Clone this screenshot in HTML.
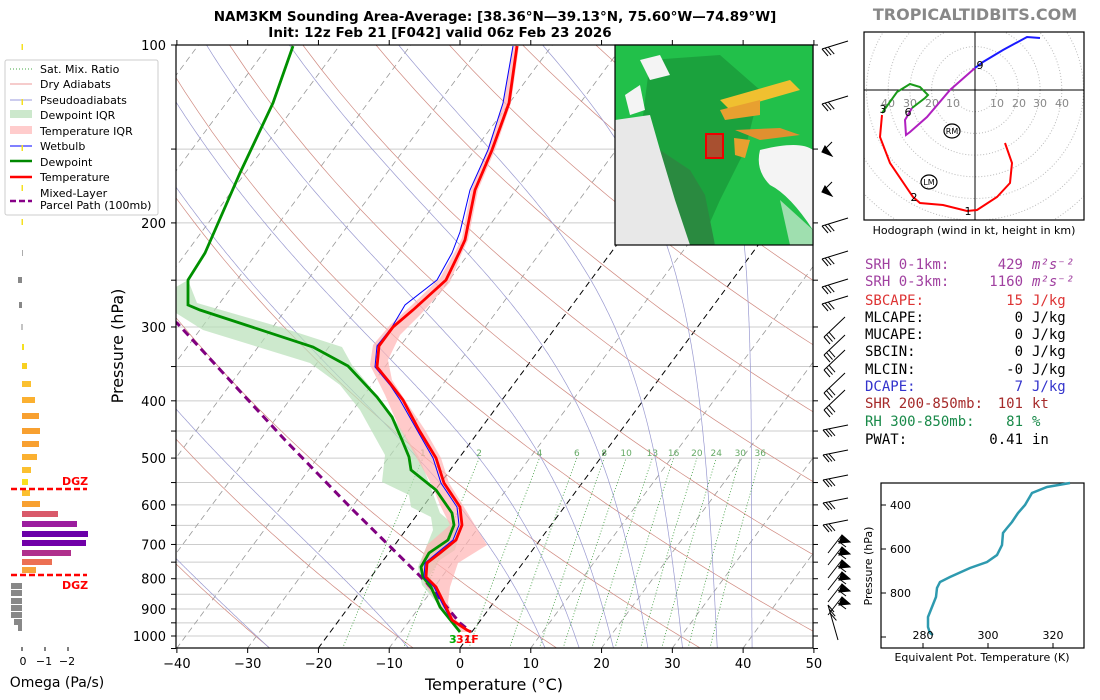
<!DOCTYPE html>
<html><head><meta charset="utf-8"><style>
body{margin:0;background:#fff;width:1100px;height:700px;overflow:hidden}
svg{display:block;font-family:"DejaVu Sans","Liberation Sans",sans-serif}
.m{font-family:"DejaVu Sans Mono","Liberation Mono",monospace;font-size:14px}
</style></head><body>
<svg id="s" width="1100" height="700" viewBox="0 0 1100 700" xmlns="http://www.w3.org/2000/svg">
<defs><clipPath id="c"><rect x="176" y="45" width="637" height="603"/></clipPath>
<clipPath id="h"><rect x="864" y="32" width="220" height="188"/></clipPath></defs>
<text x="495" y="21" text-anchor="middle" font-size="13.5" font-weight="bold">NAM3KM Sounding Area-Average: [38.36°N—39.13°N, 75.60°W—74.89°W]</text>
<text x="440" y="37" text-anchor="middle" font-size="13.5" font-weight="bold">Init: 12z Feb 21 [F042] valid 06z Feb 23 2026</text>
<text x="975" y="20" text-anchor="middle" font-size="16" font-weight="bold" fill="#888">TROPICALTIDBITS.COM</text>
<g id="bg" clip-path="url(#c)"></g>
<g id="fg" clip-path="url(#c)"></g>
<rect x="176" y="45" width="637" height="603" fill="none" stroke="#000" stroke-width="1.2"/>
<g id="ax" font-size="13"></g>
<text x="494" y="690" text-anchor="middle" font-size="16">Temperature (°C)</text>
<text transform="translate(123,346) rotate(-90)" text-anchor="middle" font-size="16">Pressure (hPa)</text>
<!-- inset map -->
<g>
<rect x="615" y="45" width="198" height="200" fill="#22c04a"/>
<path d="M650,60 L720,55 L760,90 L745,150 L720,200 L700,245 L680,245 L665,190 L640,140Z" fill="#1a9a3a" opacity=".8"/>
<path d="M615,120 L650,115 L660,150 L680,175 L700,200 L715,245 L615,245Z" fill="#e8e8e8"/>
<path d="M660,150 L690,170 L705,195 L715,245 L690,245 L675,200Z" fill="#2a8a40"/>
<path d="M760,150 Q800,140 813,150 L813,230 Q790,195 770,185 Q755,170 760,150Z" fill="#f4f4f4"/>
<path d="M780,200 L813,230 L813,245 L790,245Z" fill="#f4f4f4" opacity=".6"/>
<path d="M640,60 L660,55 L670,75 L650,80Z" fill="#f4f4f4"/>
<path d="M625,95 L640,85 L645,110 L630,115Z" fill="#f4f4f4"/>
<path d="M720,100 L790,80 L800,90 L730,110Z" fill="#f0c030"/>
<path d="M720,110 L760,100 L760,115 L725,120Z" fill="#e8a030"/>
<path d="M735,130 L780,128 L800,135 L760,140Z" fill="#e09030"/>
<path d="M734,138 L750,140 L745,158 L735,155Z" fill="#e8a030"/>
<rect x="706" y="134" width="17" height="24" fill="#a85030" stroke="#e00" stroke-width="2"/>
<rect x="615" y="45" width="198" height="200" fill="none" stroke="#000" stroke-width="1.2"/>
</g>
<!-- barbs -->
<g id="wb" stroke="#000" stroke-width="1" fill="#000"></g>
<!-- legend -->
<g font-size="11">
<rect x="5" y="60" width="153" height="155" fill="#fff" stroke="#ccc" rx="2"/>
<line x1="10" y1="69" x2="32" y2="69" stroke="#4a4" stroke-dasharray="1,2"/><text x="40" y="73">Sat. Mix. Ratio</text>
<line x1="10" y1="84" x2="32" y2="84" stroke="#e99"/><text x="40" y="88">Dry Adiabats</text>
<line x1="10" y1="100" x2="32" y2="100" stroke="#99d"/><text x="40" y="104">Pseudoadiabats</text>
<rect x="10" y="110" width="22" height="8" fill="#cce8cc"/><text x="40" y="119">Dewpoint IQR</text>
<rect x="10" y="126" width="22" height="8" fill="#fcc"/><text x="40" y="135">Temperature IQR</text>
<line x1="10" y1="146" x2="32" y2="146" stroke="#00f"/><text x="40" y="150">Wetbulb</text>
<line x1="10" y1="161" x2="32" y2="161" stroke="#080" stroke-width="2.5"/><text x="40" y="166">Dewpoint</text>
<line x1="10" y1="177" x2="32" y2="177" stroke="#f00" stroke-width="2.5"/><text x="40" y="181">Temperature</text>
<line x1="10" y1="201" x2="32" y2="201" stroke="#808" stroke-width="2.5" stroke-dasharray="6,3"/><text x="40" y="197">Mixed-Layer</text><text x="40" y="209">Parcel Path (100mb)</text>
</g>
<!-- omega -->
<g id="om"></g>
<g stroke="#f00" stroke-width="2.5" stroke-dasharray="6,3"><line x1="11" y1="489" x2="87" y2="489"/><line x1="11" y1="575" x2="87" y2="575"/></g>
<g fill="#f00" font-weight="bold" font-size="11"><text x="62" y="485">DGZ</text><text x="62" y="589">DGZ</text></g>
<g font-size="11" text-anchor="middle"><line x1="22" y1="647" x2="22" y2="651" stroke="#000"/><line x1="45" y1="647" x2="45" y2="651" stroke="#000"/><line x1="68" y1="647" x2="68" y2="651" stroke="#000"/><text x="23" y="665">0</text><text x="44" y="665">−1</text><text x="67" y="665">−2</text></g>
<text x="57" y="687" text-anchor="middle" font-size="14">Omega (Pa/s)</text>
<!-- hodograph -->
<g id="hd"></g>
<text x="974" y="234" text-anchor="middle" font-size="11">Hodograph (wind in kt, height in km)</text>
<!-- stats -->
<g class="m">
<g fill="#a040a0"><text x="865" y="269">SRH 0-1km:</text><text x="1023" y="269" text-anchor="end">429</text><text x="1032" y="269" font-style="italic">m²s⁻²</text>
<text x="865" y="286">SRH 0-3km:</text><text x="1023" y="286" text-anchor="end">1160</text><text x="1032" y="286" font-style="italic">m²s⁻²</text></g>
<g fill="#dd3333"><text x="865" y="305">SBCAPE:</text><text x="1023" y="305" text-anchor="end">15</text><text x="1032" y="305">J/kg</text></g>
<text x="865" y="322">MLCAPE:</text><text x="1023" y="322" text-anchor="end">0</text><text x="1032" y="322">J/kg</text>
<text x="865" y="339">MUCAPE:</text><text x="1023" y="339" text-anchor="end">0</text><text x="1032" y="339">J/kg</text>
<text x="865" y="356">SBCIN:</text><text x="1023" y="356" text-anchor="end">0</text><text x="1032" y="356">J/kg</text>
<text x="865" y="374">MLCIN:</text><text x="1023" y="374" text-anchor="end">-0</text><text x="1032" y="374">J/kg</text>
<g fill="#3333cc"><text x="865" y="391">DCAPE:</text><text x="1023" y="391" text-anchor="end">7</text><text x="1032" y="391">J/kg</text></g>
<g fill="#a52a2a"><text x="865" y="408">SHR 200-850mb:</text><text x="1023" y="408" text-anchor="end">101</text><text x="1032" y="408">kt</text></g>
<g fill="#1a8a4a"><text x="865" y="426">RH 300-850mb:</text><text x="1023" y="426" text-anchor="end">81</text><text x="1032" y="426">%</text></g>
<text x="865" y="444">PWAT:</text><text x="1023" y="444" text-anchor="end">0.41</text><text x="1032" y="444">in</text>
</g>
<!-- theta-e -->
<g font-size="11">
<rect x="881" y="483" width="203" height="165" fill="none" stroke="#000" stroke-width="1.2"/>
<polyline fill="none" stroke="#2e9aaf" stroke-width="2.5" points="1070,483 1047,487 1032,493 1025,505 1018,513 1012,522 1007,528 1003,533 1002,545 997,555 987,562 970,568 950,577 940,582 937,588 936,597 932,607 928,617 928,627 930,633 933,635"/>
<g stroke="#000"><line x1="881" y1="505" x2="886" y2="505"/><line x1="881" y1="549" x2="886" y2="549"/><line x1="881" y1="593" x2="886" y2="593"/><line x1="881" y1="637" x2="886" y2="637"/><line x1="923" y1="648" x2="923" y2="643"/><line x1="988" y1="648" x2="988" y2="643"/><line x1="1053" y1="648" x2="1053" y2="643"/></g>
<text x="890" y="509">400</text><text x="890" y="553">600</text><text x="890" y="597">800</text>
<text x="923" y="639" text-anchor="middle">280</text><text x="988" y="639" text-anchor="middle">300</text><text x="1053" y="639" text-anchor="middle">320</text>
<text x="982" y="661" text-anchor="middle">Equivalent Pot. Temperature (K)</text>
<text transform="translate(872,566) rotate(-90)" text-anchor="middle">Pressure (hPa)</text>
</g>
</svg>
<script>
const NS="http://www.w3.org/2000/svg";
function el(g,t,a,txt){const e=document.createElementNS(NS,t);for(const k in a)e.setAttribute(k,a[k]);if(txt!==undefined)e.textContent=txt;document.getElementById(g).appendChild(e);return e;}
const Y=p=>45+591*Math.log10(p/100);
const X=(T,p)=>460+7.078*T+0.74*(648-Y(p));
const pl=(g,pts,a)=>{a.points=pts.map(q=>q[0].toFixed(1)+","+q[1].toFixed(1)).join(" ");a.fill=a.fill||"none";el(g,a.fill!=="none"?"polygon":"polyline",a);};
for(let p=100;p<=1000;p+=50){el("bg","line",{x1:176,x2:813,y1:Y(p),y2:Y(p),stroke:"#ccc","stroke-width":1});}
for(let T=-150;T<=50;T+=10){const blk=(T==0||T==-20);el("bg","line",{x1:X(T,1050),y1:Y(1050),x2:X(T,100),y2:Y(100),stroke:blk?"#000":"#999","stroke-width":blk?1:0.8,"stroke-dasharray":"6,4"});}
for(let th=203;th<=560;th+=20){const pts=[];for(let p=1050;p>=100;p-=10)pts.push([X(th*Math.pow(p/1000,0.286)-273.15,p),Y(p)]);pl("bg",pts,{stroke:"#d08a80","stroke-width":0.7});}
function lapse(T,p){const es=6.112*Math.exp(17.67*(T-273.15)/(T-29.65));const rs=0.622*es/(p-es);const Lv=2.501e6,Rd=287,Cp=1005;return (Rd*T+Lv*rs)/(p*(Cp+Lv*Lv*rs*0.622/(Rd*T*T)));}
const t0s=[-50,-30,-10,10,15,20,25,30,35,40];
for(const t0 of t0s){let T=t0+273.15,pts=[];let Tu=T;for(let p=1000;p<1050;p+=2){Tu+=lapse(Tu,p)*2;}pts.push([X(Tu-273.15,1050),Y(1050)]);for(let p=1000;p>=100;p-=2){pts.push([X(T-273.15,p),Y(p)]);T-=lapse(T,p)*2;}pl("bg",pts,{stroke:"#9999d0","stroke-width":0.7});}
for(const w of [1,2,4,6,8,10,13,16,20,24,30,36]){const pts=[];for(let p=1050;p>=500;p-=10){const e=w*p/(622+w),l=Math.log(e/6.112);pts.push([X(243.5*l/(17.67-l),p),Y(p)]);}pl("bg",pts,{stroke:"#3a9a3a","stroke-width":0.8,"stroke-dasharray":"1,2"});const q=pts[pts.length-1];el("fg","text",{x:q[0],y:q[1]-2,"font-size":9,fill:"#6a6","text-anchor":"middle"},w);}
pl("fg",[[176,287],[188,280],[197,303],[280,327],[342,347],[352,365],[367,383],[395,420],[419,457],[428,480],[440,513],[460,530],[455,550],[440,560],[430,575],[433,590],[440,600],[437,603],[422,585],[418,567],[425,550],[433,530],[431,517],[411,507],[409,495],[382,482],[385,455],[360,410],[340,385],[310,363],[203,330],[176,313]],{fill:"#b8e0b8","fill-opacity":0.7});
pl("fg",[[519,46],[511,103],[495,150],[478,190],[468,240],[462,253],[450,282],[420,315],[400,335],[388,360],[392,380],[405,400],[425,430],[441,458],[449,483],[464,507],[487,545],[458,563],[450,587],[448,603],[456,620],[470,632],[460,632],[440,605],[425,585],[420,565],[427,545],[450,525],[440,505],[432,485],[415,455],[398,425],[385,395],[370,365],[373,345],[390,325],[412,305],[440,278],[456,250],[462,238],[471,190],[487,150],[503,103],[513,46]],{fill:"#ffb3b3","fill-opacity":0.7});
pl("fg",[[150,310],[177,323],[285,440],[353,510],[427,583],[460,623],[471,632]],{stroke:"#800080","stroke-width":3,"stroke-dasharray":"8,5"});
pl("fg",[[293,46],[273,103],[240,173],[205,253],[188,280],[188,305],[200,310],[313,347],[348,366],[377,397],[392,417],[402,440],[409,457],[411,470],[436,490],[452,513],[454,525],[448,540],[429,553],[421,567],[423,577],[431,587],[440,607],[452,622],[460,632]],{stroke:"#009000","stroke-width":2.8});
pl("fg",[[513,46],[503,103],[488,150],[470,190],[460,232],[452,253],[437,280],[405,305],[392,327],[377,346],[375,367],[390,385],[400,400],[417,430],[433,458],[441,483],[457,507],[459,525],[453,540],[437,553],[425,563],[424,577],[434,587],[442,603],[451,620],[466,630]],{stroke:"#0000ff","stroke-width":1});
pl("fg",[[517,46],[509,103],[492,150],[475,190],[465,240],[459,253],[446,280],[413,310],[393,327],[379,346],[377,367],[390,383],[403,400],[419,430],[436,458],[444,483],[460,507],[462,525],[456,540],[440,553],[427,563],[426,577],[436,587],[444,603],[452,620],[467,630],[471,632]],{stroke:"#ff0000","stroke-width":2.8});
el("fg","text",{x:449,y:643,"font-size":11,"font-weight":"bold",fill:"#0a0"},"3");
el("fg","text",{x:456,y:643,"font-size":11,"font-weight":"bold",fill:"#f00"},"31F");
for(let p=100;p<=1000;p+=100){el("ax","text",{x:166,y:Y(p)+5,"text-anchor":"end"},p);}
for(let p=100;p<=1050;p+=50){el("ax","line",{x1:171,x2:176,y1:Y(p),y2:Y(p),stroke:"#000"});el("ax","line",{x1:813,x2:818,y1:Y(p),y2:Y(p),stroke:"#000"});}
for(let T=-40;T<=50;T+=10){const x=460+7.078*T;el("ax","line",{x1:x,x2:x,y1:648,y2:653,stroke:"#000"});el("ax","line",{x1:x,x2:x,y1:45,y2:40,stroke:"#000"});el("ax","text",{x:x,y:668,"text-anchor":"middle"},T<0?"−"+(-T):T);}
const bar=[[45,0],[100,0],[150,1],[190,1],[222,0],[255,0],[283,0],[300,0],[327,2],[345,2],[360,2],[383,2],[400,2],[430,3],[455,3],[480,3],[503,3],[525,3],[543,4],[555,4],[568,4],[580,4],[592,4],[605,4],[620,5]];
for(const [y,t] of bar){let x1=822,y1=y+4,x2=848,y2=y-4;if(t==1){x1=822;y1=y+2;x2=832;y2=y-8;}if(t==2){x1=824;y1=y+10;x2=845;y2=y-10;}if(t==3){x1=823;y1=y;x2=848;y2=y-5;}if(t==4){x1=828;y1=y+10;x2=842;y2=y-8;}if(t==5){x1=828;y1=y-15;x2=838;y2=y+20;}
el("wb","line",{x1:x1,y1:y1,x2:x2,y2:y2});
if(t==1){el("wb","polygon",{points:`${x1},${y1} ${x1+10},${y1+4} ${x1+3},${y1-6}`});}
else if(t==4){el("wb","polygon",{points:`${x2},${y2} ${x2+8},${y2+7} ${x2-3},${y2+8}`});el("wb","line",{x1:x2-4,y1:y2+6,x2:x2+4,y2:y2+12});}
else{for(let i=0;i<3;i++){const bx=x1+(x2-x1)*0.12*i,by=y1+(y2-y1)*0.12*i;el("wb","line",{x1:bx,y1:by,x2:bx+6,y2:by+7});}}}
const om=[[253,22,22.7,"#888"],[280,18,22,"#888"],[305,19,22,"#888"],[327,21.5,22.5,"#888"],[347,22,24,"#f5e020"],[366,22,27,"#f8d020"],[384,22,31,"#fbc030"],[400,22,35,"#fbb030"],[416,22,39,"#f8a030"],[431,22,40,"#f8a030"],[444,22,39,"#f8a030"],[457,22,37,"#fbb030"],[470,22,31,"#fbc030"],[482,22,28,"#f8e020"],[493,22,30,"#fbc030"],[504,22,40,"#f8a030"],[514,22,58,"#d9596a"],[524,22,77,"#9b1d9e"],[534,22,88,"#6a00a8"],[543,22,86,"#7100a8"],[553,22,71,"#b0308c"],[562,22,52,"#ec7053"],[570,22,36,"#f7a43a"],[586,11,22,"#888"],[593,11,22,"#888"],[601,11,22,"#888"],[608,11,22,"#888"],[615,11,22,"#888"],[622,14,22,"#888"],[628,18,22,"#888"]];
for(const [y,a,b,c] of om)el("om","rect",{x:a,y:y-3,width:b-a,height:6,fill:c});
for(const y of [47,102,148,188,222])el("om","rect",{x:21.5,y:y-3,width:1.5,height:6,fill:"#f5e020"});
const cx=975,cy=90;
for(let r=10;r<=80;r+=10)el("hd","circle",{cx:cx,cy:cy,r:r*2.17,fill:"none",stroke:"#bbb","stroke-dasharray":"1,2","clip-path":"url(#h)"});
el("hd","rect",{x:864,y:32,width:220,height:188,fill:"none",stroke:"#000","stroke-width":1.2});
el("hd","line",{x1:864,x2:1084,y1:cy,y2:cy,stroke:"#000"});el("hd","line",{x1:cx,x2:cx,y1:32,y2:220,stroke:"#000"});
[[10,997],[20,1019],[30,1040],[40,1062],[10,953],[20,932],[30,910],[40,888]].forEach(([v,x])=>el("hd","text",{x:x,y:107,"font-size":11,fill:"#888","text-anchor":"middle"},v));
pl("hd",[[1005,143],[1012,163],[1010,183],[997,197],[977,210],[967,211],[943,205],[920,203],[913,197],[890,163],[880,137],[882,115]],{stroke:"#f00","stroke-width":2});
pl("hd",[[882,113],[897,92],[910,84],[920,87],[928,95],[925,98],[912,108]],{stroke:"#1a9a1a","stroke-width":2});
pl("hd",[[912,108],[905,120],[906,135],[910,132],[927,117],[950,90],[975,68]],{stroke:"#b020c0","stroke-width":2});
pl("hd",[[975,68],[983,62],[1003,50],[1027,37],[1040,38]],{stroke:"#1a1aff","stroke-width":2});
[["1",968,215],["2",914,201],["3",883,113],["6",908,116],["9",980,69]].forEach(([t,x,y])=>el("hd","text",{x:x,y:y,"font-size":11,"text-anchor":"middle"},t));
[["RM",952,131],["LM",929,182]].forEach(([t,x,y])=>{el("hd","ellipse",{cx:x,cy:y,rx:8,ry:7,fill:"none",stroke:"#000","stroke-width":1.2});el("hd","text",{x:x,y:y+3,"font-size":8,"text-anchor":"middle"},t);});
</script>
</body></html>
